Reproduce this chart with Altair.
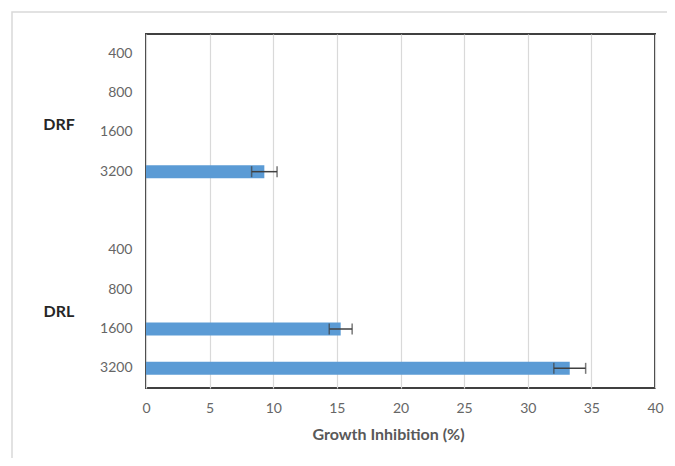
import altair as alt
import pandas as pd

# ---- data ----
groups = ["DRF", "DRF", "DRF", "DRF", "DRL", "DRL", "DRL", "DRL"]
concentrations = ["400", "800", "1600", "3200", "400", "800", "1600", "3200"]
inhibition = [0, 0, 0, 9.3, 0, 0, 15.3, 33.3]
errors = [0, 0, 0, 1.0, 0, 0, 0.9, 1.25]
x_ticks = [0, 5, 10, 15, 20, 25, 30, 35, 40]
group_labels = ["DRF", "DRL"]
group_label_rows = ["DRF|1600", "DRL|1600"]
group_label_dy = [-7, -17]

rows = [f"{g}|{c}" for g, c in zip(groups, concentrations)]
domain = rows[:4] + ["gap"] + rows[4:]

df = pd.DataFrame({"row": rows, "value": inhibition, "err": errors})
df["lo"] = df["value"] - df["err"]
df["hi"] = df["value"] + df["err"]
df = df[df["value"] > 0]

FONT = "Lato"
BLUE = "#5b9bd5"
ERR = "#404040"

yscale = alt.Scale(domain=domain, paddingInner=0, paddingOuter=0)
yaxis = alt.Axis(
    title=None,
    labelExpr="indexof(datum.label,'|') > 0 ? split(datum.label,'|')[1] : ''",
    ticks=False, domain=False, grid=False,
    labelPadding=14, labelFontSize=14, labelColor="#666666", labelFont=FONT,
)
xscale = alt.Scale(domain=[0, 40], nice=False, zero=True)
xaxis = alt.Axis(
    values=x_ticks, title="Growth Inhibition (%)",
    ticks=False, domain=False, grid=True, gridColor="#d9d9d9", gridWidth=1.2,
    labelFlush=False,
    labelPadding=13, labelFontSize=14, labelColor="#666666", labelFont=FONT,
    titleFont=FONT, titleFontSize=16, titleFontWeight="bold", titleColor="#595959",
    titlePadding=11, titleX=242, titleAlign="center",
)

base = alt.Chart(df)

bars = base.mark_bar(size=13, color=BLUE).encode(
    x=alt.X("value:Q", scale=xscale, axis=xaxis),
    y=alt.Y("row:N", scale=yscale, axis=yaxis, sort=domain),
)

err_rule = base.mark_rule(color=ERR, strokeWidth=1.5).encode(
    x=alt.X("lo:Q", scale=xscale),
    x2="hi:Q",
    y=alt.Y("row:N", scale=yscale, sort=domain),
)

caps = base.transform_fold(["lo", "hi"], as_=["end", "pos"]).mark_tick(
    color=ERR, size=11, thickness=1.5, orient="vertical"
).encode(
    x=alt.X("pos:Q", scale=xscale),
    y=alt.Y("row:N", scale=yscale, sort=domain),
)

label_layers = []
for lab, row, dy in zip(group_labels, group_label_rows, group_label_dy):
    ldf = pd.DataFrame({"row": [row], "label": [lab]})
    label_layers.append(
        alt.Chart(ldf).mark_text(
            font=FONT, fontSize=16, fontWeight="bold", color="#262626",
            align="center", baseline="middle", dy=dy,
        ).encode(
            x=alt.value(-87),
            y=alt.Y("row:N", scale=yscale, sort=domain),
            text="label:N",
        )
    )

frame = alt.Chart(pd.DataFrame({"a": [0]})).mark_rect(
    fill=None, stroke="#d9d9d9", strokeWidth=1.5
).encode(
    x=alt.value(-134), x2=alt.value(700),
    y=alt.value(-22), y2=alt.value(600),
)

chart = alt.layer(frame, bars, err_rule, caps, *label_layers).properties(
    width=509,
    height=354,
    autosize="none",
    background="white",
    padding={"left": 138, "top": 26, "right": 12, "bottom": 70},
).configure_view(
    stroke="#404040", strokeWidth=2
)

chart.save("out.html", embed_options={"renderer": "svg", "actions": False})
